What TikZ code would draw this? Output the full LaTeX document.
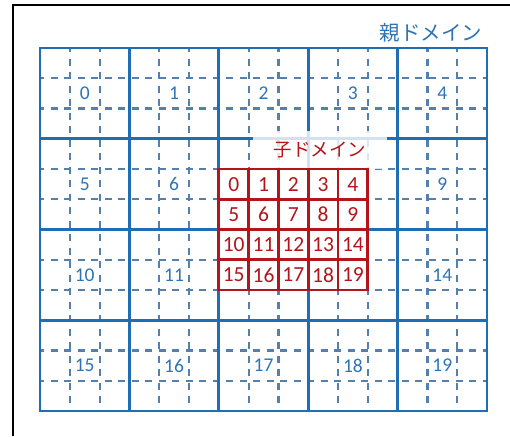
\documentclass[tikz,border=0pt]{standalone}
\usepackage{fontspec}
\setmainfont{Carlito}
\newfontfamily\jpfont{Noto Sans CJK JP}
\usepackage{tikz}
\definecolor{parentblue}{HTML}{1F6EB4}
\definecolor{subblue}{HTML}{5580AE}
\definecolor{numblue}{HTML}{2E74B5}
\definecolor{childred}{HTML}{B3151B}

\begin{document}
\begin{tikzpicture}[
  x=1pt, y=-1pt,
  parentline/.style={draw=parentblue, line width=2.7pt},
  subline/.style={draw=subblue, line width=2.2pt, dash pattern=on 7pt off 6.5pt, dash phase=3pt},
  pnum/.style={text=numblue, font=\fontsize{19.5}{19.5}\selectfont, inner sep=1pt},
  ccell/.style={rectangle, draw=childred, line width=2.8pt, fill=white, text=childred, minimum width=29.8pt, minimum height=30.25pt, inner sep=0pt, font=\fontsize{21.5}{21.5}\selectfont},
  title/.style={inner sep=0pt}
]
\useasboundingbox (0,0) rectangle (510,436);
% outer frame, cut by the page on the right and at the bottom
\draw[line width=1.8pt] (13,436) |- (510,5);

% dashed sub-grid of the parent domain
\foreach \k in {1,2,4,5,7,8,10,11}
  \draw[subline] (40,48+\k*30.25) -- (487,48+\k*30.25);
\foreach \k in {1,2,4,5,7,8,10,11,13,14}
  \draw[subline] (40+\k*29.8,48) -- (40+\k*29.8,411);

% parent domain
\draw[parentline] (40,48) rectangle (487,411);
\foreach \i in {1,...,4}
  \draw[parentline] (40+\i*89.4,48) -- ++(0,363);
\foreach \j in {1,2,3}
  \draw[parentline] (40,48+\j*90.75) -- ++(447,0);

\foreach \n in {0,1,2,3,4,5,6,9,10,11,14,15,16,17,18,19} {
  \pgfmathtruncatemacro\col{mod(\n,5)}
  \pgfmathtruncatemacro\row{\n/5}
  \node[pnum] (p\n) at (84.7+\col*89.4, 93.4+\row*90.75) {\n};
}
\node[title, text=numblue, font=\jpfont\fontsize{20.5}{20.5}\selectfont] (parent) at (431,33) {親ドメイン};

% child domain
\node[title, text=childred, fill=white, fill opacity=0.8, text opacity=1, minimum width=134pt, minimum height=38pt, font=\jpfont\fontsize{18.5}{18.5}\selectfont] (child) at (320,150) {子ドメイン};
\foreach \n in {0,...,19} {
  \pgfmathtruncatemacro\col{mod(\n,5)}
  \pgfmathtruncatemacro\row{\n/5}
  \node[ccell] (c\n) at (233.7+\col*29.8, 184.1+\row*30.25) {\n};
}
\end{tikzpicture}
\end{document}
